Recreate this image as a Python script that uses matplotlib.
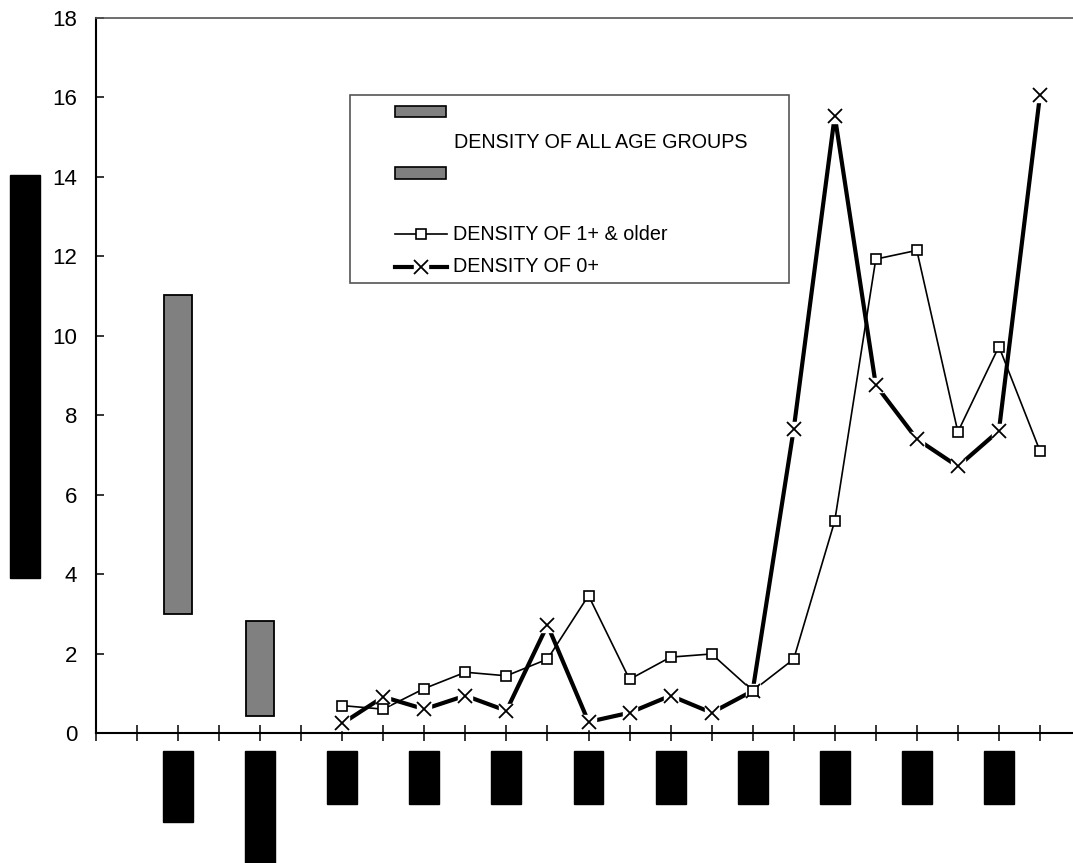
import matplotlib
matplotlib.use("Agg")
import matplotlib.pyplot as plt
from matplotlib.patches import Rectangle
from matplotlib.lines import Line2D
import matplotlib.transforms as mtransforms
import numpy as np

plt.rcParams["font.family"] = ["Liberation Sans", "DejaVu Sans"]

W, H = 1073, 863

# floating bars: range of density over all age groups
bar_pos = [2, 4]
bar_low = [3.0, 0.44]
bar_high = [11.03, 2.82]

# sampling positions for the two line series
line_pos = list(range(6, 24))
dens_older = [0.69, 0.60, 1.12, 1.53, 1.44, 1.86, 3.46, 1.35, 1.91, 1.99,
              1.06, 1.86, 5.34, 11.93, 12.15, 7.58, 9.73, 7.10]
dens_young = [0.24, 0.91, 0.60, 0.94, 0.56, 2.72, 0.28, 0.51, 0.94, 0.51,
              1.06, 7.65, 15.54, 8.76, 7.40, 6.71, 7.61, 16.05]

# positions of the (blacked-out) category labels
label_pos = [2, 4, 6, 8, 10, 12, 14, 16, 18, 20, 22]
label_bottom = [822, 863, 804, 804, 804, 804, 804, 804, 804, 804, 804]


def fx(x):
    return x / W


def fy(y):
    return 1 - y / H


fig = plt.figure(figsize=(W / 100, H / 100), dpi=100)
ax = fig.add_axes([fx(96), fy(733), 985 / W, (733 - 18) / H])

ax.set_xlim(0, 24)
ax.set_ylim(0, 18)

low = np.array(bar_low)
high = np.array(bar_high)
ax.bar(bar_pos, high - low, bottom=low, width=0.68, color="#808080",
       edgecolor="black", linewidth=1.3, zorder=3)

ax.plot(line_pos, dens_older, color="black", lw=1.2, zorder=3)
# white box behind each cross, like the spreadsheet marker background
ax.plot(line_pos, dens_young, color="black", lw=3.0, marker="s", ms=9.5,
        mfc="white", mec="white", zorder=4, clip_on=False)
ax.plot(line_pos, dens_young, ls="none", marker="x", ms=9.5, mew=1.3,
        color="black", zorder=5, clip_on=False)
ax.plot(line_pos, dens_older, ls="none", marker="s", ms=7.5, mfc="white",
        mec="black", mew=1.2, zorder=6, clip_on=False)

ax.set_yticks(np.arange(0, 19, 2))
ax.set_xticks(np.arange(0, 24))
ax.set_xticklabels([])
ax.tick_params(axis="y", direction="in", length=6, width=1.1, pad=13.5,
               labelsize=16)
ax.tick_params(axis="x", direction="inout", length=12, width=1.1)

ax.spines["right"].set_visible(False)
ax.spines["left"].set_linewidth(1.5)
ax.spines["bottom"].set_linewidth(1.5)
ax.spines["top"].set_color("#555555")
ax.spines["top"].set_linewidth(1.2)

# blacked-out category labels
trans = mtransforms.blended_transform_factory(ax.transData, fig.transFigure)
for p, b in zip(label_pos, label_bottom):
    ax.add_artist(Rectangle((p - 0.365, fy(b)), 0.73, (b - 751) / H,
                            transform=trans, color="black", clip_on=False))

# blacked-out y-axis title
fig.add_artist(Rectangle((fx(10), fy(578)), 30 / W, (578 - 175) / H,
                         transform=fig.transFigure, color="black"))

# legend
fig.add_artist(Rectangle((fx(350), fy(283)), (789 - 350) / W, (283 - 95) / H,
                         transform=fig.transFigure, facecolor="white",
                         edgecolor="#555555", linewidth=1.2, zorder=7))
for top, bot in [(106, 117), (167, 179)]:
    fig.add_artist(Rectangle((fx(395), fy(bot)), 51 / W, (bot - top) / H,
                             transform=fig.transFigure, facecolor="#808080",
                             edgecolor="black", linewidth=1.2, zorder=8))
fig.text(fx(454), fy(142), "DENSITY OF ALL AGE GROUPS", va="center",
         fontsize=14.2, zorder=8)

fig.add_artist(Line2D([fx(395), fx(447)], [fy(234), fy(234)], color="black",
                      lw=1.2, transform=fig.transFigure, zorder=8))
fig.add_artist(Line2D([fx(421)], [fy(234)], ls="none", marker="s", ms=7.5,
                      mfc="white", mec="black", mew=1.2,
                      transform=fig.transFigure, zorder=9))
fig.text(fx(453), fy(234), "DENSITY OF 1+ & older", va="center",
         fontsize=14.2, zorder=8)

fig.add_artist(Line2D([fx(395), fx(447)], [fy(267), fy(267)], color="black",
                      lw=3.0, transform=fig.transFigure, zorder=8))
fig.add_artist(Line2D([fx(421)], [fy(267)], ls="none", marker="s", ms=9.5,
                      mfc="white", mec="white",
                      transform=fig.transFigure, zorder=9))
fig.add_artist(Line2D([fx(421)], [fy(267)], ls="none", marker="x", ms=9.5,
                      mew=1.3, color="black",
                      transform=fig.transFigure, zorder=10))
fig.text(fx(453), fy(267), "DENSITY OF 0+", va="center",
         fontsize=14.2, zorder=8)

fig.savefig("out.png", dpi=100)
